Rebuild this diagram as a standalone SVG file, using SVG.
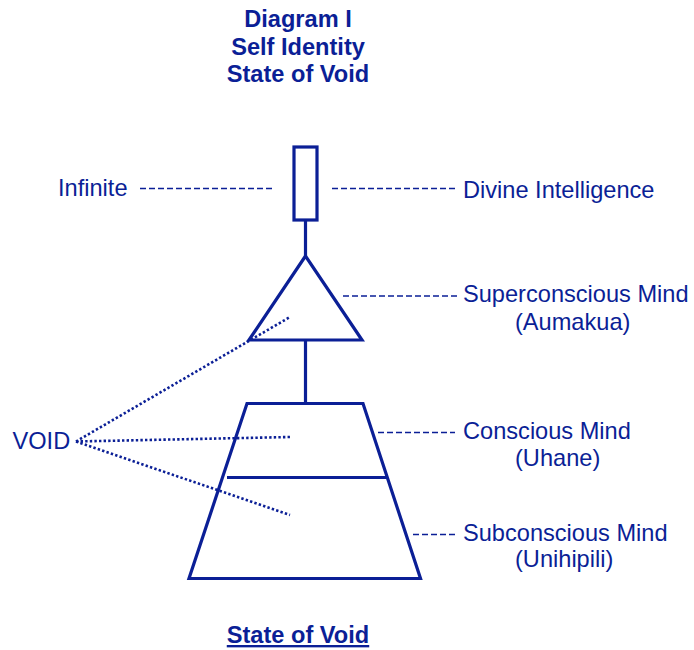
<svg xmlns="http://www.w3.org/2000/svg" width="694" height="650" viewBox="0 0 694 650">
<style>
text{font-family:"Liberation Sans",Arial,sans-serif;font-size:23.6px;fill:#0b1f96}
.b{font-weight:bold}
.shape{fill:none;stroke:#0b1f96;stroke-width:3.2}
.stem{stroke:#0b1f96;stroke-width:3.2}
.dash{stroke:#0b1f96;stroke-width:1.3;stroke-dasharray:6 3;fill:none}
.dot{stroke:#0b1f96;stroke-width:2.6;stroke-dasharray:2.4 2.2;fill:none}
</style>
<rect width="694" height="650" fill="#fff"/>
<g id="title">
<text class="b" x="298" y="27" text-anchor="middle">Diagram I</text>
<text class="b" x="298" y="54.5" text-anchor="middle">Self Identity</text>
<text class="b" x="298" y="82" text-anchor="middle">State of Void</text>
</g>
<g id="infinite-box"><rect class="shape" x="294" y="147" width="23" height="73"/></g>
<g id="superconscious-triangle"><polygon class="shape" points="305.5,256 249,340 362,340"/></g>
<g id="trapezoid">
<polygon class="shape" points="247,403.5 363,403.5 420.5,578.5 189,578.5"/>
<line class="stem" x1="227" y1="477.5" x2="387" y2="477.5"/>
</g>
<g id="label-infinite"><text x="58" y="196">Infinite</text></g>
<g id="label-divine"><text x="463" y="198">Divine Intelligence</text></g>
<g id="label-super"><text x="463" y="302">Superconscious Mind</text><text x="515" y="330">(Aumakua)</text></g>
<g id="label-conscious"><text x="463" y="438.5">Conscious Mind</text><text x="515" y="466">(Uhane)</text></g>
<g id="label-sub"><text x="463" y="540.5">Subconscious Mind</text><text x="515" y="567">(Unihipili)</text></g>
<g id="label-void"><text x="12.5" y="449">VOID</text></g>
<g id="footer"><text class="b" x="298" y="643" text-anchor="middle" text-decoration="underline">State of Void</text></g>
<g id="connectors">
<line class="stem" x1="305.5" y1="220" x2="305.5" y2="256"/>
<line class="stem" x1="305.5" y1="340" x2="305.5" y2="403.5"/>
<line class="dash" x1="140" y1="188.5" x2="274" y2="188.5"/>
<line class="dash" x1="332" y1="188.5" x2="455" y2="188.5"/>
<line class="dash" x1="343" y1="296" x2="457" y2="296"/>
<line class="dash" x1="378" y1="432.5" x2="455" y2="432.5"/>
<line class="dash" x1="413" y1="534.5" x2="455" y2="534.5"/>
<line class="dot" x1="76" y1="441.5" x2="290" y2="317"/>
<line class="dot" x1="76" y1="441.5" x2="291" y2="437"/>
<line class="dot" x1="76" y1="441.5" x2="290" y2="515"/>
</g>
</svg>
